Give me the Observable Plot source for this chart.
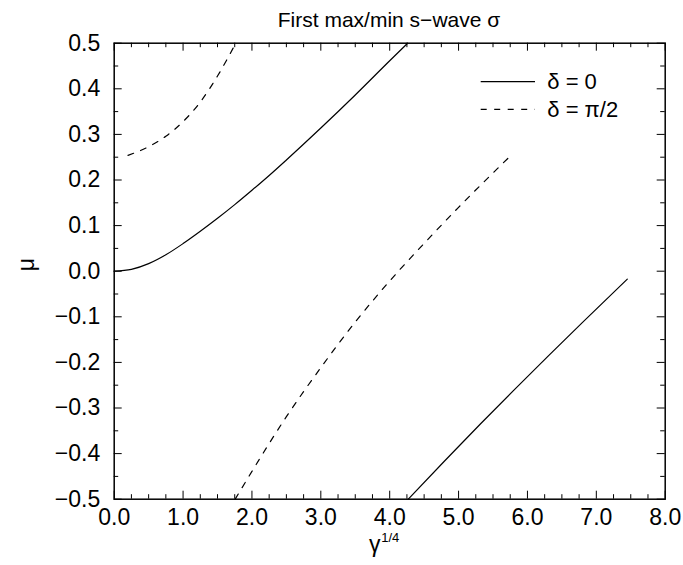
<!DOCTYPE html>
<html>
<head>
<meta charset="utf-8">
<script src="https://cdn.jsdelivr.net/npm/d3@7"></script>
<script src="https://cdn.jsdelivr.net/npm/@observablehq/plot@0.6"></script>
<style>
  body { margin: 0; background: #fff; font-family: "Liberation Sans", Arial, sans-serif; }
  #wrap { position: relative; width: 683px; height: 565px; overflow: hidden; }
  #title { position: absolute; left: 389px; top: 9px; transform: translateX(-50%);
    font-size: 21px; line-height: 22px; white-space: nowrap; color: #000; z-index: 2; }
  #legend { position: absolute; left: 0; top: 0; pointer-events: none; }
  #chart svg { display: block; }
</style>
</head>
<body>
<div id="wrap">
  <div id="title"></div>
  <div id="chart"></div>
</div>
<script>
// ---- data ----
const titleText = "First max/min s−wave σ";
const yLabel = "μ";
const xLabelBase = "γ";
const xLabelSup = "1/4";
const seriesNames = ["δ = 0", "δ = π/2"];

// δ = 0, first branch
const solidAV  = [0, 0.25, 0.5, 0.75, 1.0, 1.25, 1.5, 1.75, 2.0, 2.25, 2.5, 3.0, 3.5, 4.0, 4.26];
const solidAMu = [0, 0.004, 0.0165, 0.036, 0.0605, 0.0875, 0.116, 0.146, 0.1775, 0.21, 0.244, 0.314, 0.3865, 0.4615, 0.5];
// δ = 0, second branch
const solidBV  = [4.27, 4.8, 5.32, 5.8, 6.3, 6.8, 7.45];
const solidBMu = [-0.5, -0.4157, -0.3346, -0.2612, -0.1862, -0.1122, -0.0173];
// δ = π/2, first branch
const dashAV  = [0.2, 0.5, 0.75, 1.0, 1.25, 1.5, 1.765];
const dashAMu = [0.254, 0.273, 0.296, 0.328, 0.371, 0.428, 0.5];
// δ = π/2, second branch
const dashBV  = [1.756, 2.0, 2.5, 3.0, 3.5, 4.0, 4.5, 5.0, 5.74];
const dashBMu = [-0.5, -0.439, -0.319, -0.2115, -0.1115, -0.0215, 0.061, 0.14, 0.251];

// axis ticks
const xMajor = [0, 1, 2, 3, 4, 5, 6, 7, 8];
const xMinor = [0.25, 0.5, 0.75, 1.25, 1.5, 1.75, 2.25, 2.5, 2.75, 3.25, 3.5, 3.75, 4.25, 4.5, 4.75,
                5.25, 5.5, 5.75, 6.25, 6.5, 6.75, 7.25, 7.5, 7.75];
const yMajor = [-0.5, -0.4, -0.3, -0.2, -0.1, 0, 0.1, 0.2, 0.3, 0.4, 0.5];
const yMinor = [-0.45, -0.35, -0.25, -0.15, -0.05, 0.05, 0.15, 0.25, 0.35, 0.45];

// ---- build table ----
const toRows = (V, M, branch, series) => V.map((v, i) => ({v, mu: M[i], branch, series}));
const solidRows = [...toRows(solidAV, solidAMu, "a", seriesNames[0]), ...toRows(solidBV, solidBMu, "b", seriesNames[0])];
const dashRows  = [...toRows(dashAV, dashAMu, "a", seriesNames[1]), ...toRows(dashBV, dashBMu, "b", seriesNames[1])];

document.getElementById("title").textContent = titleText;

const fmt = d3.format(".1f");
const FS = 23;
const W = 683, H = 565;
const mL = 113.7, mR = 18.3, mT = 42.7, mB = 66.3;
const PW = W - mL - mR, PH = H - mT - mB;
const MAJ = 8, MIN = 4.5;
const tk = {stroke: "#000", strokeWidth: 1};
const id = d => d;

const chart = Plot.plot({
  width: W,
  height: H,
  marginTop: mT,
  marginBottom: mB,
  marginLeft: mL,
  marginRight: mR,
  x: {domain: [0, 8]},
  y: {domain: [-0.5, 0.5]},
  style: {fontFamily: "'Liberation Sans', Arial, sans-serif", fontSize: FS + "px", color: "#000", background: "#fff", overflow: "visible"},
  marks: [
    // curves
    Plot.line(solidRows, {x: "v", y: "mu", z: "branch", stroke: "#000", strokeWidth: 1.2, curve: "monotone-x"}),
    Plot.line(dashRows, {x: "v", y: "mu", z: "branch", stroke: "#000", strokeWidth: 1.2, strokeDasharray: "6,7.5", curve: "monotone-x"}),
    // inward ticks on all four sides (rules spanning the frame, inset to tick length)
    Plot.ruleX(xMinor, {...tk, x: id, insetTop: PH - MIN}),
    Plot.ruleX(xMajor, {...tk, x: id, insetTop: PH - MAJ}),
    Plot.ruleX(xMinor, {...tk, x: id, insetBottom: PH - MIN}),
    Plot.ruleX(xMajor, {...tk, x: id, insetBottom: PH - MAJ}),
    Plot.ruleY(yMinor, {...tk, y: id, insetRight: PW - MIN}),
    Plot.ruleY(yMajor, {...tk, y: id, insetRight: PW - MAJ}),
    Plot.ruleY(yMinor, {...tk, y: id, insetLeft: PW - MIN}),
    Plot.ruleY(yMajor, {...tk, y: id, insetLeft: PW - MAJ}),
    // tick labels
    Plot.axisX(xMajor, {anchor: "bottom", tickSize: 0, tickPadding: 9.5, tickFormat: fmt, fontSize: FS, label: null}),
    Plot.axisY(yMajor, {anchor: "left", tickSize: 0, tickPadding: 14, tickFormat: fmt, fontSize: FS, label: null}),
    // axis labels
    Plot.text([yLabel], {text: id, frameAnchor: "left", dx: -88, rotate: -90, fontSize: FS}),
    Plot.text([xLabelBase], {text: id, frameAnchor: "bottom", dx: -15, dy: 53, fontSize: FS}),
    Plot.text([xLabelSup], {text: id, frameAnchor: "bottom", dx: 0.5, dy: 43, fontSize: 13}),
    Plot.frame({stroke: "#000", strokeWidth: 1.5})
  ]
});
document.getElementById("chart").appendChild(chart);

// ---- legend (overlay) ----
const leg = d3.select("#wrap").append("svg").attr("id", "legend")
  .attr("width", W).attr("height", H);
const legendItems = [
  {name: seriesNames[0], dash: null, ly: 81.7, ty: 89},
  {name: seriesNames[1], dash: "6,7.5", ly: 109.3, ty: 116.8}
];
legendItems.forEach(it => {
  leg.append("line").attr("x1", 480.7).attr("x2", 535).attr("y1", it.ly).attr("y2", it.ly)
    .attr("stroke", "#000").attr("stroke-width", 1.2).attr("stroke-dasharray", it.dash);
  leg.append("text").attr("x", 547.3).attr("y", it.ty).text(it.name)
    .attr("font-size", 22).attr("font-family", "'Liberation Sans', Arial, sans-serif").attr("fill", "#000");
});
</script>
</body>
</html>
